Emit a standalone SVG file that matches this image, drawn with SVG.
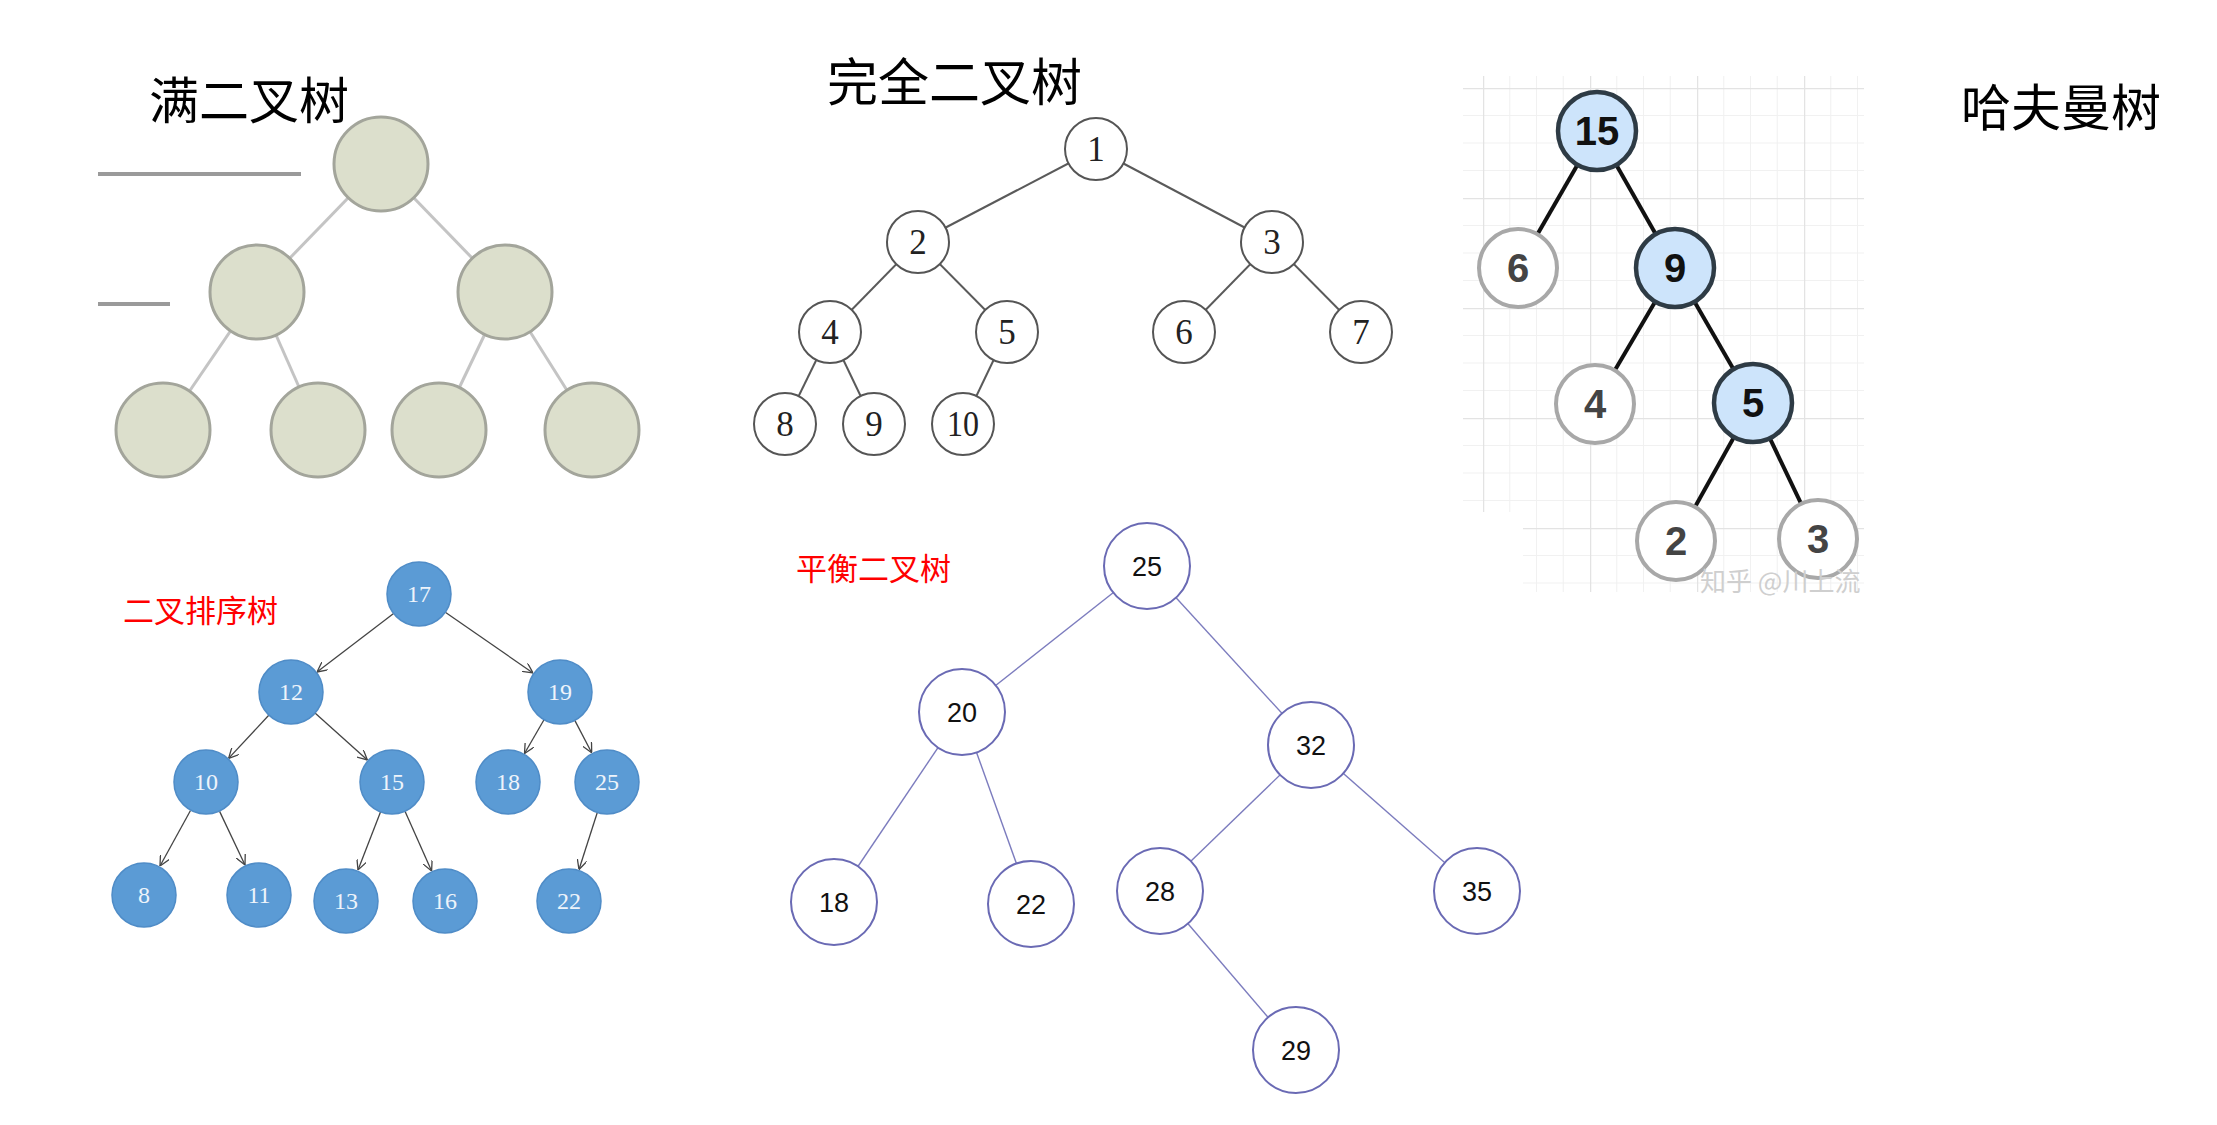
<svg xmlns="http://www.w3.org/2000/svg" width="2217" height="1125" viewBox="0 0 2217 1125">
<style>
.title{font-family:"Noto Sans CJK SC","Noto Sans",sans-serif;font-size:50px;fill:#000}
.redt{font-family:"Noto Sans CJK SC","Noto Sans",sans-serif;font-size:31px;fill:#ff0000}
.fullc{fill:#dcdfcc;stroke:#a3a59b;stroke-width:3}
.fulle{stroke:#c4c4c4;stroke-width:3}
.cc{fill:#fff;stroke:#555;stroke-width:2}
.ce{stroke:#5a5a5a;stroke-width:2}
.ct{font-family:"Liberation Serif",serif;font-size:35px;fill:#222;text-anchor:middle}
.hb{fill:#cde4fb;stroke:#2e3b45;stroke-width:4.5}
.hw{fill:#fff;stroke:#a8a8a8;stroke-width:4}
.he{stroke:#111;stroke-width:4}
.ht{font-family:"Liberation Sans",sans-serif;font-weight:bold;font-size:40px;text-anchor:middle}
.bc{fill:#5b9bd5;stroke:#4f8cc7;stroke-width:1.5}
.be{stroke:#444;stroke-width:1.3;fill:none;marker-end:url(#arr)}
.bt{font-family:"Liberation Serif",serif;font-size:24px;fill:#eef4fb;text-anchor:middle}
.ac{fill:#fff;stroke:#6a6ab4;stroke-width:2}
.ae{stroke:#7c7cbe;stroke-width:1.4}
.at{font-family:"Liberation Sans",sans-serif;font-size:27px;fill:#111;text-anchor:middle}
</style>
<defs>
<marker id="arr" viewBox="0 0 10 10" refX="10" refY="5" markerWidth="10" markerHeight="10" markerUnits="userSpaceOnUse" orient="auto">
<path d="M0,0 L10,5 L0,10" fill="none" stroke="#444" stroke-width="1.3"/>
</marker>
<pattern id="grid" patternUnits="userSpaceOnUse" x="1483" y="88" width="107" height="110">
<rect width="107" height="110" fill="#fff"/>
<g stroke="#f1f1f1" stroke-width="1">
<line x1="26.75" y1="0" x2="26.75" y2="110"/><line x1="53.5" y1="0" x2="53.5" y2="110"/><line x1="80.25" y1="0" x2="80.25" y2="110"/>
<line x1="0" y1="27.5" x2="107" y2="27.5"/><line x1="0" y1="55" x2="107" y2="55"/><line x1="0" y1="82.5" x2="107" y2="82.5"/>
</g>
<g stroke="#e3e3e3" stroke-width="1.5">
<line x1="0.5" y1="0" x2="0.5" y2="110"/><line x1="0" y1="0.5" x2="107" y2="0.5"/>
</g>
</pattern>
<clipPath id="wmclip"><rect x="1463" y="540" width="401" height="60"/></clipPath>
</defs>
<rect width="2217" height="1125" fill="#fff"/>

<!-- titles -->
<text class="title" x="149" y="119">满二叉树</text>
<text class="title" x="827" y="101" style="font-size:51px">完全二叉树</text>
<text class="title" x="1961" y="126">哈夫曼树</text>
<text class="redt" x="123" y="622">二叉排序树</text>
<text class="redt" x="796" y="580">平衡二叉树</text>

<!-- Huffman grid background -->
<polygon points="1463,76 1864,76 1864,592 1523,592 1523,512 1463,512" fill="url(#grid)"/>

<!-- full binary tree side lines -->
<line x1="98" y1="174" x2="301" y2="174" stroke="#9a9a9a" stroke-width="4"/>
<line x1="98" y1="304" x2="170" y2="304" stroke="#9a9a9a" stroke-width="4"/>

<g id="connectors">
<!-- full tree -->
<g class="fulle">
<line x1="381" y1="164" x2="257" y2="292"/>
<line x1="381" y1="164" x2="505" y2="292"/>
<line x1="257" y1="292" x2="163" y2="430"/>
<line x1="257" y1="292" x2="318" y2="430"/>
<line x1="505" y1="292" x2="439" y2="430"/>
<line x1="505" y1="292" x2="592" y2="430"/>
</g>
<!-- complete tree -->
<g class="ce">
<line x1="1096" y1="149" x2="918" y2="242"/>
<line x1="1096" y1="149" x2="1272" y2="242"/>
<line x1="918" y1="242" x2="830" y2="332"/>
<line x1="918" y1="242" x2="1007" y2="332"/>
<line x1="1272" y1="242" x2="1184" y2="332"/>
<line x1="1272" y1="242" x2="1361" y2="332"/>
<line x1="830" y1="332" x2="785" y2="424"/>
<line x1="830" y1="332" x2="874" y2="424"/>
<line x1="1007" y1="332" x2="963" y2="424"/>
</g>
<!-- Huffman -->
<g class="he">
<line x1="1597" y1="131" x2="1518" y2="268"/>
<line x1="1597" y1="131" x2="1675" y2="268"/>
<line x1="1675" y1="268" x2="1595" y2="404"/>
<line x1="1675" y1="268" x2="1753" y2="403"/>
<line x1="1753" y1="403" x2="1676" y2="541"/>
<line x1="1753" y1="403" x2="1818" y2="539"/>
</g>
<!-- BST arrows -->
<g class="be">
<line x1="393.6" y1="613.5" x2="317" y2="672"/>
<line x1="445.3" y1="612.3" x2="533" y2="673"/>
<line x1="269" y1="715" x2="228.6" y2="758.4"/>
<line x1="315" y1="713" x2="367.4" y2="760"/>
<line x1="544" y1="719.7" x2="524.5" y2="753.5"/>
<line x1="574.8" y1="720.4" x2="591.7" y2="752.7"/>
<line x1="190.5" y1="810.5" x2="160" y2="866"/>
<line x1="219.6" y1="811.4" x2="245" y2="865"/>
<line x1="380.5" y1="811.9" x2="358" y2="870"/>
<line x1="405" y1="811.2" x2="431.6" y2="871"/>
<line x1="597.3" y1="812.5" x2="579" y2="869.5"/>
</g>
<!-- AVL -->
<g class="ae">
<line x1="1147" y1="566" x2="962" y2="712"/>
<line x1="1147" y1="566" x2="1311" y2="745"/>
<line x1="962" y1="712" x2="834" y2="902"/>
<line x1="962" y1="712" x2="1031" y2="904"/>
<line x1="1311" y1="745" x2="1160" y2="891"/>
<line x1="1311" y1="745" x2="1477" y2="891"/>
<line x1="1160" y1="891" x2="1296" y2="1050"/>
</g>
</g>

<!-- full binary tree nodes -->
<g id="full-1"><circle class="fullc" cx="381" cy="164" r="47"/></g>
<g id="full-2"><circle class="fullc" cx="257" cy="292" r="47"/></g>
<g id="full-3"><circle class="fullc" cx="505" cy="292" r="47"/></g>
<g id="full-4"><circle class="fullc" cx="163" cy="430" r="47"/></g>
<g id="full-5"><circle class="fullc" cx="318" cy="430" r="47"/></g>
<g id="full-6"><circle class="fullc" cx="439" cy="430" r="47"/></g>
<g id="full-7"><circle class="fullc" cx="592" cy="430" r="47"/></g>

<!-- complete binary tree nodes -->
<g id="c1"><circle class="cc" cx="1096" cy="149" r="31"/><text class="ct" x="1096" y="161">1</text></g>
<g id="c2"><circle class="cc" cx="918" cy="242" r="31"/><text class="ct" x="918" y="254">2</text></g>
<g id="c3"><circle class="cc" cx="1272" cy="242" r="31"/><text class="ct" x="1272" y="254">3</text></g>
<g id="c4"><circle class="cc" cx="830" cy="332" r="31"/><text class="ct" x="830" y="344">4</text></g>
<g id="c5"><circle class="cc" cx="1007" cy="332" r="31"/><text class="ct" x="1007" y="344">5</text></g>
<g id="c6"><circle class="cc" cx="1184" cy="332" r="31"/><text class="ct" x="1184" y="344">6</text></g>
<g id="c7"><circle class="cc" cx="1361" cy="332" r="31"/><text class="ct" x="1361" y="344">7</text></g>
<g id="c8"><circle class="cc" cx="785" cy="424" r="31"/><text class="ct" x="785" y="436">8</text></g>
<g id="c9"><circle class="cc" cx="874" cy="424" r="31"/><text class="ct" x="874" y="436">9</text></g>
<g id="c10"><circle class="cc" cx="963" cy="424" r="31"/><text class="ct" x="963" y="436" textLength="32" lengthAdjust="spacingAndGlyphs">10</text></g>

<!-- Huffman nodes -->
<g id="h15"><circle class="hb" cx="1597" cy="131" r="39"/><text class="ht" x="1597" y="145" fill="#111">15</text></g>
<g id="h6"><circle class="hw" cx="1518" cy="268" r="39"/><text class="ht" x="1518" y="282" fill="#444">6</text></g>
<g id="h9"><circle class="hb" cx="1675" cy="268" r="39"/><text class="ht" x="1675" y="282" fill="#111">9</text></g>
<g id="h4"><circle class="hw" cx="1595" cy="404" r="39"/><text class="ht" x="1595" y="418" fill="#444">4</text></g>
<g id="h5"><circle class="hb" cx="1753" cy="403" r="39"/><text class="ht" x="1753" y="417" fill="#111">5</text></g>
<g id="h2"><circle class="hw" cx="1676" cy="541" r="39"/><text class="ht" x="1676" y="555" fill="#444">2</text></g>
<g id="h3"><circle class="hw" cx="1818" cy="539" r="39"/><text class="ht" x="1818" y="553" fill="#444">3</text></g>
<text x="1700" y="591" clip-path="url(#wmclip)" style="font-family:'Noto Sans CJK SC',sans-serif;font-size:26px;fill:#cfcfcf">知乎 @川上流</text>

<!-- BST nodes -->
<g id="b17"><circle class="bc" cx="419" cy="594" r="32"/><text class="bt" x="419" y="602">17</text></g>
<g id="b12"><circle class="bc" cx="291" cy="692" r="32"/><text class="bt" x="291" y="700">12</text></g>
<g id="b19"><circle class="bc" cx="560" cy="692" r="32"/><text class="bt" x="560" y="700">19</text></g>
<g id="b10"><circle class="bc" cx="206" cy="782" r="32"/><text class="bt" x="206" y="790">10</text></g>
<g id="b15"><circle class="bc" cx="392" cy="782" r="32"/><text class="bt" x="392" y="790">15</text></g>
<g id="b18"><circle class="bc" cx="508" cy="782" r="32"/><text class="bt" x="508" y="790">18</text></g>
<g id="b25"><circle class="bc" cx="607" cy="782" r="32"/><text class="bt" x="607" y="790">25</text></g>
<g id="b8"><circle class="bc" cx="144" cy="895" r="32"/><text class="bt" x="144" y="903">8</text></g>
<g id="b11"><circle class="bc" cx="259" cy="895" r="32"/><text class="bt" x="259" y="903">11</text></g>
<g id="b13"><circle class="bc" cx="346" cy="901" r="32"/><text class="bt" x="346" y="909">13</text></g>
<g id="b16"><circle class="bc" cx="445" cy="901" r="32"/><text class="bt" x="445" y="909">16</text></g>
<g id="b22"><circle class="bc" cx="569" cy="901" r="32"/><text class="bt" x="569" y="909">22</text></g>

<!-- AVL nodes -->
<g id="a25"><circle class="ac" cx="1147" cy="566" r="43"/><text class="at" x="1147" y="576">25</text></g>
<g id="a20"><circle class="ac" cx="962" cy="712" r="43"/><text class="at" x="962" y="722">20</text></g>
<g id="a32"><circle class="ac" cx="1311" cy="745" r="43"/><text class="at" x="1311" y="755">32</text></g>
<g id="a18"><circle class="ac" cx="834" cy="902" r="43"/><text class="at" x="834" y="912">18</text></g>
<g id="a22"><circle class="ac" cx="1031" cy="904" r="43"/><text class="at" x="1031" y="914">22</text></g>
<g id="a28"><circle class="ac" cx="1160" cy="891" r="43"/><text class="at" x="1160" y="901">28</text></g>
<g id="a35"><circle class="ac" cx="1477" cy="891" r="43"/><text class="at" x="1477" y="901">35</text></g>
<g id="a29"><circle class="ac" cx="1296" cy="1050" r="43"/><text class="at" x="1296" y="1060">29</text></g>
</svg>
